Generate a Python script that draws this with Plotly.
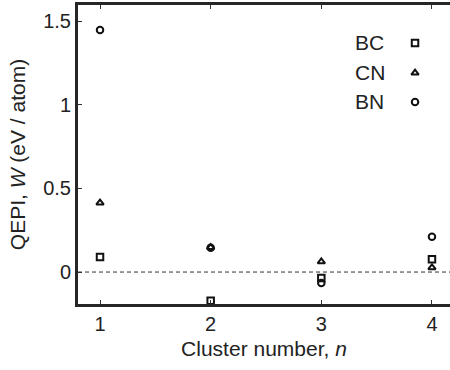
import plotly.graph_objects as go

# ---- data ----
clusters = [1, 2, 3, 4]
bc_values = [0.09, -0.172, -0.035, 0.077]
cn_values = [0.414, 0.148, 0.062, 0.027]
bn_values = [1.446, 0.145, -0.065, 0.211]
series_names = ["BC", "CN", "BN"]
series_symbols = ["square-open", "triangle-up-open", "circle-open"]
x_tick_vals = [1, 2, 3, 4]
x_tick_text = ["1", "2", "3", "4"]
y_tick_vals = [0, 0.5, 1, 1.5]
y_tick_text = ["0", "0.5", "1", "1.5"]

FONT = "Liberation Sans, Arial, sans-serif"
INK = "#111111"
AXIS = "#262626"
MARKER_SIZE = 6.5
MARKER_LW = 2.0

fig = go.Figure()
for name, vals, sym in zip(series_names, [bc_values, cn_values, bn_values], series_symbols):
    fig.add_trace(go.Scatter(
        x=clusters, y=vals, mode="markers", name=name, showlegend=False,
        marker=dict(symbol=sym, size=MARKER_SIZE, color=INK, line=dict(width=MARKER_LW, color=INK)),
    ))

# legend keys (marker on an overlay axis in 0..1 space)
legend_y = [0.873, 0.7726, 0.6756]
legend_key_x = 0.906
legend_text_x = 0.739
for name, sym, ly in zip(series_names, series_symbols, legend_y):
    fig.add_trace(go.Scatter(
        x=[legend_key_x], y=[ly], xaxis="x2", yaxis="y3", mode="markers",
        showlegend=False, hoverinfo="skip",
        marker=dict(symbol=sym, size=MARKER_SIZE, color=INK, line=dict(width=MARKER_LW, color=INK)),
    ))
    fig.add_annotation(x=legend_text_x, y=ly, xref="paper", yref="paper",
                       text=name, showarrow=False, xanchor="left", yanchor="middle",
                       font=dict(family=FONT, size=21, color="#222"))

fig.add_shape(type="line", xref="paper", yref="y", x0=0, x1=1, y0=0, y1=0,
              line=dict(color="#333", width=1, dash="4px,3px"))

fig.update_layout(
    width=450, height=370,
    margin=dict(l=78, r=0, t=5, b=66),
    paper_bgcolor="white", plot_bgcolor="white",
    font=dict(family=FONT, size=20, color="#222"),
    xaxis=dict(
        range=[0.801, 4.163], tickvals=x_tick_vals, ticktext=x_tick_text,
        ticks="inside", ticklen=4, tickwidth=1, tickcolor="#333",
        showline=True, linewidth=3, linecolor=AXIS, mirror="ticks",
        showgrid=False, zeroline=False,
        tickfont=dict(family=FONT, size=20, color="#222"),
        title=dict(text="Cluster number, <i>n</i>", standoff=8,
                   font=dict(family=FONT, size=21, color="#222")),
    ),
    yaxis=dict(
        range=[-0.191, 1.596], tickvals=y_tick_vals, ticktext=y_tick_text,
        ticks="inside", ticklen=4, tickwidth=1, tickcolor="#333",
        showline=True, linewidth=3, linecolor=AXIS, mirror=False,
        showgrid=False, zeroline=False,
        tickfont=dict(family=FONT, size=20, color="#222"),
        title=dict(text="QEPI, <i>W</i> (eV / atom)", standoff=12,
                   font=dict(family=FONT, size=21, color="#222")),
    ),
    yaxis2=dict(
        overlaying="y", side="right", anchor="x", range=[-0.191, 1.596],
        tickvals=y_tick_vals, showticklabels=False,
        ticks="inside", ticklen=4, tickwidth=1, tickcolor="#333",
        showline=False, showgrid=False, zeroline=False,
    ),
    xaxis2=dict(overlaying="x", range=[0, 1], visible=False),
    yaxis3=dict(overlaying="y", range=[0, 1], visible=False),
)

fig.write_html("out.html")
